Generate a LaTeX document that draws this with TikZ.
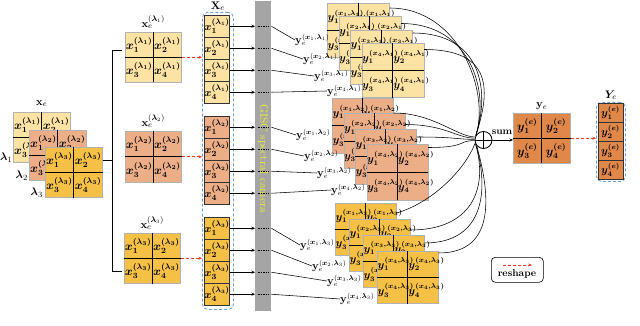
\documentclass[tikz,border=0pt]{standalone}
\usepackage{amsmath,bm}
\usetikzlibrary{calc,arrows.meta}
\definecolor{cA}{HTML}{FCE3A3}
\definecolor{cB}{HTML}{ECAE86}
\definecolor{cC}{HTML}{F5C046}
\definecolor{cD}{HTML}{E0884A}
\definecolor{bdash}{HTML}{6A9FD8}
\definecolor{barg}{HTML}{A5A5A5}
\definecolor{rdash}{HTML}{F03C28}
\definecolor{bartxt}{HTML}{F2F230}
\tikzset{
 gbox/.style={draw=gray!60, line width=0.5pt, inner sep=0pt, anchor=north west},
 xline/.style={line width=0.9pt, black},
 cl/.style={inner sep=0pt, font=\fontsize{11.5}{12}\selectfont},
 yl/.style={inner sep=0pt, font=\fontsize{10.5}{12}\selectfont},
 lab/.style={inner sep=0pt, font=\fontsize{11}{12}\selectfont},
 ccell/.style={draw=gray!40!black, line width=0.5pt, inner sep=0pt, minimum width=24pt, minimum height=22pt, font=\fontsize{11}{12}\selectfont},
 ycell/.style={draw=gray!40!black, line width=0.5pt, inner sep=0pt, minimum width=25pt, minimum height=19pt, font=\fontsize{10.5}{12}\selectfont},
 arr/.style={-{Stealth[length=3.5pt,width=3pt]}, line width=0.5pt},
 redarr/.style={dash pattern=on 3pt off 2pt, rdash, line width=0.8pt, -{Stealth[length=3.5pt,width=3pt]}},
 conn/.style={line width=0.55pt},
 bluebox/.style={draw=bdash, dash pattern=on 3pt off 2pt, line width=0.8pt, rounded corners=5pt, inner sep=0pt, anchor=north west},
 bardash/.style={dash pattern=on 1.5pt off 1pt, line width=0.6pt},
}
\newcommand{\xgrid}[6]{%
 \node[gbox, fill=#5, minimum width=#3, minimum height=#4] (#1) at (#2) {};
 \draw[xline] (#1.north) -- (#1.south) (#1.west) -- (#1.east);
 \node[cl] (#1a) at ($(#1.center)!0.5!(#1.north west)$) {$\bm{x_1^{(\lambda_#6)}}$};
 \node[cl] (#1b) at ($(#1.center)!0.5!(#1.north east)$) {$\bm{x_2^{(\lambda_#6)}}$};
 \node[cl] (#1c) at ($(#1.center)!0.5!(#1.south west)$) {$\bm{x_3^{(\lambda_#6)}}$};
 \node[cl] (#1d) at ($(#1.center)!0.5!(#1.south east)$) {$\bm{x_4^{(\lambda_#6)}}$};
}
\newcommand{\ygrid}[7]{%
 \node[gbox, fill=#5, minimum width=#3, minimum height=#4] (#1) at (#2) {};
 \draw[xline] (#1.north) -- (#1.south) (#1.west) -- (#1.east);
 \node[yl, anchor=west] (#1a) at ($(#1.west)!0.5!(#1.north west)+(0.5,0)$) {$\bm{y_1^{(x_#6,\lambda_#7)}}$};
 \node[yl, anchor=west] (#1b) at ($(#1.center)!0.5!(#1.north)+(0.5,0)$) {$\bm{y_2^{(x_#6,\lambda_#7)}}$};
 \node[yl, anchor=west] (#1c) at ($(#1.west)!0.5!(#1.south west)+(0.5,0)$) {$\bm{y_3^{(x_#6,\lambda_#7)}}$};
 \node[yl, anchor=west] (#1d) at ($(#1.center)!0.5!(#1.south)+(0.5,0)$) {$\bm{y_4^{(x_#6,\lambda_#7)}}$};
}
\begin{document}
\begin{tikzpicture}[x=1pt,y=-1pt]
\useasboundingbox (0,0) rectangle (640,326);
% ---------- left stack
\xgrid{X1}{13,112}{57}{50}{cA}{1}
\xgrid{X2}{29,130}{57}{50}{cB}{2}
\xgrid{X3}{45,147}{57}{50}{cC}{3}
\node[lab, anchor=south] (xlab) at ($(X1.north)+(0,-5)$) {$\mathbf{x}_e$};
\node[lab, anchor=east] (l1) at (12.5,158) {$\bm{\lambda}_1$};
\node[lab, anchor=east] (l2) at (28,176) {$\bm{\lambda}_2$};
\node[lab, anchor=east] (l3) at (43,193) {$\bm{\lambda}_3$};
% ---------- middle grids
\xgrid{M1}{125,32}{56}{50}{cA}{1}
\xgrid{M2}{125,131}{56}{51}{cB}{2}
\xgrid{M3}{124,233}{56}{50}{cC}{3}
\node[lab, anchor=south] (m1l) at ($(M1.north)+(0,-3)$) {$\mathbf{x}_e^{(\bm{\lambda}_1)}$};
\node[lab, anchor=south] (m2l) at ($(M2.north)+(0,-3)$) {$\mathbf{x}_e^{(\bm{\lambda}_2)}$};
\node[lab, anchor=south] (m3l) at ($(M3.north)+(0,-3)$) {$\mathbf{x}_e^{(\bm{\lambda}_3)}$};
% bracket
\coordinate (bj) at (112,160);
\coordinate (bt) at (112,50);
\coordinate (bb) at (112,271);
\draw[conn] (X3.east |- bj) -- (bj);
\draw[conn] ($(bt)+(10,0)$) -- (bt) -- (bb) -- ($(bb)+(10,0)$);
% ---------- column X_e
\node[bluebox, minimum width=31, minimum height=297] (colX) at (202,12) {};
\node[lab, anchor=south] (Xlab) at ($(colX.north)+(0,-1)$) {$\mathbf{X}_e$};
\foreach \j/\cc/\y in {1/cA/15, 2/cB/116, 3/cC/217}{
  \foreach \i in {1,...,4}{
    \node[ccell, fill=\cc, anchor=north] (c\j\i) at (217,{\y+22*\i-22}) {$\bm{x_\i^{(\lambda_\j)}}$};
  }
}
\draw[redarr] (M1.east) -- (colX.west |- M1.east);
\draw[redarr] (M2.east) -- (colX.west |- M2.east);
\draw[redarr] (M3.east) -- (colX.west |- M3.east);
% ---------- bar
\node[fill=barg, inner sep=0pt, minimum width=16, minimum height=310, anchor=north west] (bar) at (255,1) {};
\node[rotate=-90, text=bartxt, inner sep=0pt, font=\fontsize{11.5}{12}\selectfont] (bart) at (263,159) {GISC spectral camera};
% ---------- Y grids
\ygrid{Y11}{327,3}{62}{54}{cA}{1}{1}
\ygrid{Y12}{338.5,16.5}{62}{54}{cA}{2}{1}
\ygrid{Y13}{350,30}{62}{54}{cA}{3}{1}
\ygrid{Y14}{361.5,43.5}{62}{54}{cA}{4}{1}
\ygrid{Y21}{332,98}{61}{55}{cB}{1}{2}
\ygrid{Y22}{343.5,113.5}{61}{55}{cB}{2}{2}
\ygrid{Y23}{355,129}{61}{55}{cB}{3}{2}
\ygrid{Y24}{366.5,144.5}{61}{55}{cB}{4}{2}
\ygrid{Y31}{335,203}{61}{52}{cC}{1}{3}
\ygrid{Y32}{349,219}{61}{52}{cC}{2}{3}
\ygrid{Y33}{363,235}{61}{52}{cC}{3}{3}
\ygrid{Y34}{377,251}{61}{52}{cC}{4}{3}
% ---------- y_e labels
\foreach \n/\p/\i/\j in {ye11/{295,40}/1/1, ye12/{303,59}/2/1, ye13/{314,76}/3/1, ye14/{327,91}/4/1,
  ye21/{296,135}/1/2, ye22/{304,156}/2/2, ye23/{317,173}/3/2, ye24/{331,190}/4/2,
  ye31/{300,245}/1/3, ye32/{312,266}/2/3, ye33/{327,281}/3/3, ye34/{340,299}/4/3}{
  \node[lab, anchor=west, font=\fontsize{10.5}{12}\selectfont] (\n) at (\p) {$\mathbf{y}_e^{(\bm{x}_\i,\bm{\lambda}_\j)}$};
}
\foreach \j in {1,2,3}{
  \foreach \i in {1,...,4}{
    \draw[arr] (c\j\i.east) -- (bar.west |- c\j\i.east);
    \draw[bardash] ($(bar.west |- c\j\i.east)+(3,0)$) -- ($(bar.east |- c\j\i.east)+(-3,0)$);
    \draw[conn] (bar.east |- c\j\i.east) -- (ye\j\i.west);
  }
}
% ---------- sum
\node[circle, draw, minimum size=17, inner sep=0pt, line width=0.8pt] (S) at (483.5,140) {};
\draw[line width=0.8pt] (S.north) -- (S.south) (S.west) -- (S.east);
\foreach \n/\d in {Y11/5,Y12/7,Y13/3,Y14/6}{
  \draw[conn] ($(\n.north east)+(0,\d)$) .. controls ($(\n.north east)+(70,\d)$) and (490,92) .. (S.150);
}
\foreach \n/\d/\a in {Y21/15/160,Y22/11/168,Y23/8/176,Y24/3/184}{
  \draw[conn] ($(\n.north east)+(0,\d)$) .. controls ($(\n.north east)+(40,\d)$) and ($(S.\a)+(-18,0)$) .. (S.\a);
}
\draw[conn] ($(Y31.north east)+(0,10)$) .. controls ($(Y31.north east)+(35,0)$) and (465,170) .. (S.200);
\foreach \n/\d/\a in {Y32/11/205,Y33/8/212,Y34/2/220}{
  \draw[conn] ($(\n.north east)+(0,\d)$) .. controls ($(\n.north east)+(60,\d)$) and (489,190) .. (S.\a);
}
% ---------- y_e grid
\node[gbox, fill=cD, minimum width=57, minimum height=50] (E) at (513,113) {};
\draw[xline] (E.north) -- (E.south) (E.west) -- (E.east);
\node[cl] (Ea) at ($(E.center)!0.5!(E.north west)$) {$\bm{y_1^{(e)}}$};
\node[cl] (Eb) at ($(E.center)!0.5!(E.north east)$) {$\bm{y_2^{(e)}}$};
\node[cl] (Ec) at ($(E.center)!0.5!(E.south west)$) {$\bm{y_3^{(e)}}$};
\node[cl] (Ed) at ($(E.center)!0.5!(E.south east)$) {$\bm{y_4^{(e)}}$};
\node[lab, anchor=south] (Elab) at ($(E.north)+(0,-3)$) {$\mathbf{y}_e$};
\draw[arr] (S.east) -- (E.west |- S.east);
\node[lab, anchor=south, font=\bfseries\fontsize{10}{11}\selectfont] (sumlab) at (502,135) {sum};
% ---------- Y_e column
\node[bluebox, minimum width=29, minimum height=79] (colY) at (596,102) {};
\foreach \i in {1,...,4}{
  \node[ycell, fill=cD, anchor=north] (yc\i) at (610.5,{103+19*\i-19}) {$\bm{y_\i^{(e)}}$};
}
\node[lab, anchor=south] (Ylab) at ($(colY.north)+(0,-2)$) {$\bm{Y}_e$};
\draw[redarr] (E.east) -- (colY.west |- E.east);
% ---------- legend
\node[draw, rounded corners=4pt, line width=0.6pt, inner sep=0pt, minimum width=52, minimum height=25, anchor=north west] (leg) at (491,257) {};
\coordinate (la) at (503,265);
\coordinate (lb) at (532,265);
\draw[redarr] (la) -- (lb);
\node[lab, font=\bfseries\fontsize{10}{11}\selectfont] (legt) at (517,274) {reshape};
\end{tikzpicture}
\end{document}
